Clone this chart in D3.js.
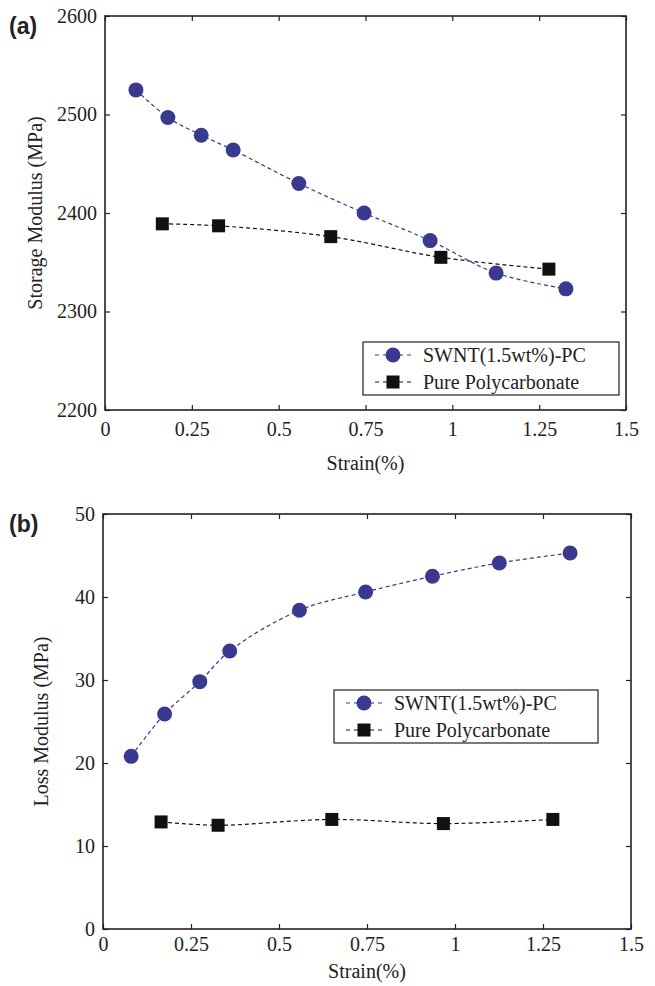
<!DOCTYPE html>
<html>
<head>
<meta charset="utf-8">
<script src="https://cdn.jsdelivr.net/npm/d3@7"></script>
<style>
  body { margin: 0; background: #fff; }
  svg { display: block; }
  svg text { font-family: "Liberation Serif", "Times New Roman", serif; font-size: 20px; fill: #222; }
  svg text.letter { font-family: "Liberation Sans", Arial, sans-serif; font-weight: bold; font-size: 23px; }
  .axis line { stroke: #222; stroke-width: 1.2; }
</style>
</head>
<body>
<div id="chart"></div>
<script>
// panel (a) storage modulus
var swntStrainA = [0.089, 0.181, 0.277, 0.369, 0.558, 0.746, 0.936, 1.126, 1.327];
var swntStorage = [2525, 2497, 2479, 2464, 2430, 2400, 2372, 2339, 2323];
var pcStrainA = [0.165, 0.327, 0.65, 0.967, 1.278];
var pcStorage = [2389, 2387, 2376, 2355, 2343];

// panel (b) loss modulus
var swntStrainB = [0.08, 0.175, 0.275, 0.36, 0.558, 0.746, 0.936, 1.126, 1.327];
var swntLoss = [20.8, 25.9, 29.8, 33.5, 38.4, 40.6, 42.5, 44.1, 45.3];
var pcStrainB = [0.165, 0.327, 0.65, 0.967, 1.278];
var pcLoss = [12.9, 12.5, 13.2, 12.7, 13.2];

var strainTicks = [0, 0.25, 0.5, 0.75, 1, 1.25, 1.5];
var storageTicks = [2200, 2300, 2400, 2500, 2600];
var lossTicks = [0, 10, 20, 30, 40, 50];
var seriesNames = ['SWNT(1.5wt%)-PC', 'Pure Polycarbonate'];

var blue = '#39398f';
var black = '#111';

var svg = d3.select('#chart').append('svg')
    .attr('width', 655)
    .attr('height', 986);

function zip(xs, ys) {
  return xs.map(function(x, i) { return [x, ys[i]]; });
}

function drawPanel(opts) {
  var xScale = d3.scaleLinear().domain([0, 1.5]).range([opts.left, opts.right]);
  var yScale = d3.scaleLinear().domain(opts.yDomain).range([opts.bottom, opts.top]);

  var g = svg.append('g');

  // ticks pointing inward on all four sides
  g.append('g')
      .attr('class', 'axis')
      .attr('transform', 'translate(0,' + opts.bottom + ')')
      .call(d3.axisBottom(xScale).tickValues(strainTicks).tickSizeInner(-5).tickSizeOuter(0).tickPadding(opts.xPad)
        .tickFormat(function(d) { return String(d); }));
  g.append('g')
      .attr('class', 'axis')
      .attr('transform', 'translate(0,' + opts.top + ')')
      .call(d3.axisTop(xScale).tickValues(strainTicks).tickSizeInner(-5).tickSizeOuter(0).tickFormat(''));
  g.append('g')
      .attr('class', 'axis')
      .attr('transform', 'translate(' + opts.left + ',0)')
      .call(d3.axisLeft(yScale).tickValues(opts.yTicks).tickSizeInner(-5).tickSizeOuter(0).tickPadding(8)
        .tickFormat(d3.format('d')));
  g.append('g')
      .attr('class', 'axis')
      .attr('transform', 'translate(' + opts.right + ',0)')
      .call(d3.axisRight(yScale).tickValues(opts.yTicks).tickSizeInner(-5).tickSizeOuter(0).tickFormat(''));

  g.selectAll('.axis .domain').remove();
  g.selectAll('.axis text').attr('font-family', null).attr('font-size', null);

  g.append('rect')
      .attr('x', opts.left)
      .attr('y', opts.top)
      .attr('width', opts.right - opts.left)
      .attr('height', opts.bottom - opts.top)
      .attr('fill', 'none')
      .attr('stroke', '#222')
      .attr('stroke-width', 1.6);

  var line = d3.line()
    .x(function(d) { return xScale(d[0]); })
    .y(function(d) { return yScale(d[1]); })
    .curve(d3.curveCatmullRom);

  var swnt = zip(opts.swntX, opts.swntY);
  var pc = zip(opts.pcX, opts.pcY);

  g.append('path')
      .datum(pc)
      .attr('d', line)
      .attr('fill', 'none')
      .attr('stroke', black)
      .attr('stroke-width', 1.2)
      .attr('stroke-dasharray', '4,3');

  g.append('path')
      .datum(swnt)
      .attr('d', line)
      .attr('fill', 'none')
      .attr('stroke', blue)
      .attr('stroke-width', 1.2)
      .attr('stroke-dasharray', '4,3');

  g.selectAll('.sq')
      .data(pc)
    .enter().append('rect')
      .attr('class', 'sq')
      .attr('x', function(d) { return xScale(d[0]) - 6.5; })
      .attr('y', function(d) { return yScale(d[1]) - 6.5; })
      .attr('width', 13)
      .attr('height', 13)
      .attr('fill', black);

  g.selectAll('.dot')
      .data(swnt)
    .enter().append('circle')
      .attr('class', 'dot')
      .attr('cx', function(d) { return xScale(d[0]); })
      .attr('cy', function(d) { return yScale(d[1]); })
      .attr('r', 7.5)
      .attr('fill', blue);

  // axis titles
  g.append('text')
      .attr('x', (opts.left + opts.right) / 2)
      .attr('y', opts.bottom + opts.xTitleDy)
      .attr('text-anchor', 'middle')
      .text('Strain(%)');

  g.append('text')
      .attr('transform', 'translate(' + opts.yTitleX + ',' + ((opts.top + opts.bottom) / 2) + ') rotate(-90)')
      .attr('text-anchor', 'middle')
      .text(opts.yTitle);

  // panel letter
  g.append('text')
      .attr('class', 'letter')
      .attr('x', 9)
      .attr('y', opts.top + opts.letterDy)
      .text(opts.letter);

  // legend
  var lg = g.append('g')
      .attr('transform', 'translate(' + opts.legend[0] + ',' + opts.legend[1] + ')');
  lg.append('rect')
      .attr('width', opts.legend[2])
      .attr('height', 53)
      .attr('fill', '#fff')
      .attr('stroke', '#222')
      .attr('stroke-width', 1.2);

  var colors = [blue, black];
  seriesNames.forEach(function(name, i) {
    var yy = 13 + i * 27;
    lg.append('line')
        .attr('x1', 12).attr('x2', 48)
        .attr('y1', yy).attr('y2', yy)
        .attr('stroke', colors[i])
        .attr('stroke-width', 1.2)
        .attr('stroke-dasharray', '4,4');
    if (i === 0) {
      lg.append('circle').attr('cx', 30).attr('cy', yy).attr('r', 7.5).attr('fill', blue);
    } else {
      lg.append('rect').attr('x', 23.5).attr('y', yy - 6.5).attr('width', 13).attr('height', 13).attr('fill', black);
    }
    lg.append('text')
        .attr('x', 60)
        .attr('y', yy)
        .attr('dy', '0.35em')
        .text(name);
  });
}

drawPanel({
  left: 105, right: 626, top: 16, bottom: 410,
  yDomain: [2200, 2600], yTicks: storageTicks,
  swntX: swntStrainA, swntY: swntStorage,
  pcX: pcStrainA, pcY: pcStorage,
  xPad: 12, xTitleDy: 60,
  yTitle: 'Storage Modulus (MPa)', yTitleX: 42,
  letter: '(a)', letterDy: 18,
  legend: [363, 342, 256]
});

drawPanel({
  left: 103, right: 631, top: 514, bottom: 929,
  yDomain: [0, 50], yTicks: lossTicks,
  swntX: swntStrainB, swntY: swntLoss,
  pcX: pcStrainB, pcY: pcLoss,
  xPad: 8, xTitleDy: 49,
  yTitle: 'Loss Modulus (MPa)', yTitleX: 48,
  letter: '(b)', letterDy: 18,
  legend: [334, 690, 264]
});
</script>
</body>
</html>
